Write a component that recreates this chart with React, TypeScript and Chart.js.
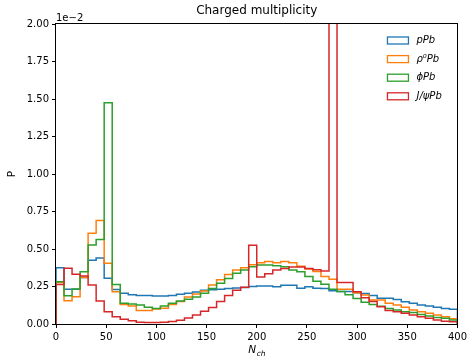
import React, { useEffect, useRef } from "react";
import { Chart, registerables } from "chart.js";

Chart.register(...registerables);

// Bin edges of the histogram (N_ch)
const binEdges = [
  0, 8, 16, 24, 32, 40, 48, 56, 64, 72, 80, 88, 96, 104, 112, 120, 128, 136, 144, 152,
  160, 168, 176, 184, 192, 200, 208, 216, 224, 232, 240, 248, 256, 264, 272, 280, 288,
  296, 304, 312, 320, 328, 336, 344, 352, 360, 368, 376, 384, 392, 400,
];

// Probabilities per bin, in units of 1e-2
const pPb = [
  0.375, 0.232, 0.232, 0.31, 0.425, 0.44, 0.305, 0.23, 0.205, 0.195,
  0.19, 0.19, 0.186, 0.186, 0.19, 0.198, 0.205, 0.213, 0.225, 0.228,
  0.232, 0.236, 0.24, 0.244, 0.25, 0.253, 0.253, 0.249, 0.258, 0.258,
  0.238, 0.249, 0.238, 0.236, 0.222, 0.216, 0.216, 0.209, 0.204, 0.19,
  0.171, 0.171, 0.164, 0.149, 0.138, 0.127, 0.12, 0.111, 0.104, 0.098,
];
const rho0Pb = [
  0.276, 0.155, 0.182, 0.31, 0.605, 0.69, 0.405, 0.215, 0.13, 0.12,
  0.09, 0.09, 0.1, 0.105, 0.13, 0.15, 0.18, 0.2, 0.22, 0.26,
  0.295, 0.33, 0.36, 0.375, 0.395, 0.409, 0.416, 0.409, 0.416, 0.409,
  0.385, 0.367, 0.35, 0.316, 0.298, 0.231, 0.231, 0.209, 0.193, 0.16,
  0.16, 0.138, 0.127, 0.111, 0.093, 0.082, 0.071, 0.06, 0.049, 0.035,
];
const phiPb = [
  0.282, 0.189, 0.233, 0.349, 0.527, 0.564, 1.475, 0.264, 0.138, 0.133,
  0.127, 0.111, 0.104, 0.12, 0.138, 0.153, 0.165, 0.18, 0.205, 0.236,
  0.271, 0.304, 0.338, 0.36, 0.382, 0.393, 0.393, 0.389, 0.382, 0.36,
  0.349, 0.316, 0.285, 0.265, 0.232, 0.216, 0.195, 0.17, 0.145, 0.13,
  0.118, 0.104, 0.093, 0.082, 0.076, 0.064, 0.053, 0.044, 0.038, 0.027,
];
const jpsiPb = [
  0.264, 0.371, 0.331, 0.32, 0.26, 0.153, 0.082, 0.049, 0.031, 0.022,
  0.012, 0.01, 0.01, 0.012, 0.016, 0.025, 0.04, 0.06, 0.085, 0.11,
  0.15, 0.19, 0.225, 0.245, 0.525, 0.313, 0.335, 0.36, 0.37, 0.38,
  0.38, 0.37, 0.362, 0.353, 2.6, 0.276, 0.276, 0.215, 0.175, 0.15,
  0.115, 0.09, 0.082, 0.071, 0.06, 0.049, 0.038, 0.027, 0.018, 0.015,
];

const seriesLabels = ["pPb", "ρ⁰Pb", "ϕPb", "J/ψPb"];
const seriesColors = ["#1f77b4", "#ff7f0e", "#2ca02c", "#d62728"];
const seriesValues = [pPb, rho0Pb, phiPb, jpsiPb];

const xTicks = [0, 50, 100, 150, 200, 250, 300, 350, 400];
const yTicks = [0, 0.25, 0.5, 0.75, 1.0, 1.25, 1.5, 1.75, 2.0];

const titleText = "Charged multiplicity";
const offsetText = "1e−2";
const yLabel = "P";
const xLabelMain = "N";
const xLabelSub = "ch";

const FONT = "'DejaVu Sans', 'Liberation Sans', sans-serif";

function stepPoints(values: number[]) {
  const pts: { x: number; y: number }[] = [{ x: binEdges[0], y: 0 }];
  values.forEach((v, i) => {
    pts.push({ x: binEdges[i], y: v });
    pts.push({ x: binEdges[i + 1], y: v });
  });
  pts.push({ x: binEdges[binEdges.length - 1], y: 0 });
  return pts;
}

const decorPlugin = {
  id: "decor",
  afterDatasetsDraw(chart: any) {
    const { ctx, chartArea } = chart;
    const { left, right, top, bottom } = chartArea;
    ctx.save();
    // frame (spines)
    ctx.strokeStyle = "#000";
    ctx.lineWidth = 1;
    ctx.strokeRect(Math.round(left) - 0.5, Math.round(top) - 0.5, Math.round(right - left) + 1, Math.round(bottom - top) + 1);

    // offset text
    ctx.fillStyle = "#000";
    ctx.font = `10px ${FONT}`;
    ctx.textAlign = "left";
    ctx.textBaseline = "alphabetic";
    ctx.fillText(offsetText, left, top - 3);

    // x label N_ch
    ctx.font = `italic 10.5px ${FONT}`;
    const wN = ctx.measureText(xLabelMain).width;
    ctx.font = `italic 7.5px ${FONT}`;
    const wS = ctx.measureText(xLabelSub).width;
    const cx = (left + right) / 2;
    const x0 = cx - (wN + wS) / 2;
    ctx.font = `italic 10.5px ${FONT}`;
    ctx.fillText(xLabelMain, x0, 353);
    ctx.font = `italic 7.5px ${FONT}`;
    ctx.fillText(xLabelSub, x0 + wN + 0.5, 356);

    // legend
    const boxW = 21;
    const boxH = 7;
    const bx = right - 70;
    let cy = top + 16.5;
    seriesLabels.forEach((lab, i) => {
      ctx.strokeStyle = seriesColors[i];
      ctx.lineWidth = 1.3;
      ctx.strokeRect(bx, cy - boxH / 2, boxW, boxH);
      ctx.fillStyle = "#000";
      ctx.font = `italic 10px ${FONT}`;
      ctx.textBaseline = "middle";
      ctx.fillText(lab, bx + boxW + 8, cy);
      cy += 18.6;
    });
    ctx.restore();
  },
};

export default function App() {
  const canvasRef = useRef<HTMLCanvasElement | null>(null);

  useEffect(() => {
    document.body.style.margin = "0";
    const canvas = canvasRef.current;
    if (!canvas) return;
    const datasets = seriesValues.map((vals, i) => ({
      label: seriesLabels[i],
      data: stepPoints(vals),
      borderColor: seriesColors[i],
      backgroundColor: seriesColors[i],
      borderWidth: 1.5,
      pointRadius: 0,
      fill: false,
      tension: 0,
      order: seriesValues.length - 1 - i,
    }));
    const chart = new Chart(canvas, {
      type: "line",
      data: { datasets },
      options: {
        responsive: false,
        animation: false,
        devicePixelRatio: 1,
        layout: { padding: { top: 0, right: 12, bottom: 0, left: 0 } },
        plugins: {
          legend: { display: false },
          tooltip: { enabled: false },
          title: {
            display: true,
            text: titleText,
            color: "#000",
            fullSize: false,
            font: { family: FONT, size: 12, weight: "normal" as any },
            padding: { top: 4, bottom: 5.6 },
          },
        },
        scales: {
          x: {
            type: "linear",
            min: 0,
            max: 400,
            afterBuildTicks: (s: any) => {
              s.ticks = xTicks.map((v) => ({ value: v }));
            },
            afterFit: (s: any) => {
              s.height = 34;
            },
            ticks: {
              color: "#000",
              font: { family: FONT, size: 10 },
              padding: 3,
              maxRotation: 0,
              autoSkip: false,
              callback: (v: any) => String(v),
            },
            grid: { drawOnChartArea: false, drawTicks: true, tickLength: 4, color: "#000", tickColor: "#000" },
            border: { display: false },
          },
          y: {
            type: "linear",
            min: 0,
            max: 2,
            afterBuildTicks: (s: any) => {
              s.ticks = yTicks.map((v) => ({ value: v }));
            },
            afterFit: (s: any) => {
              s.width = 56;
            },
            ticks: {
              color: "#000",
              font: { family: FONT, size: 10 },
              padding: 3,
              autoSkip: false,
              callback: (v: any) => Number(v).toFixed(2),
            },
            title: {
              display: true,
              text: yLabel,
              color: "#000",
              font: { family: FONT, size: 10.5 },
              padding: { top: 6, bottom: 0 },
            },
            grid: { drawOnChartArea: false, drawTicks: true, tickLength: 4, color: "#000", tickColor: "#000" },
            border: { display: false },
          },
        },
      },
      plugins: [decorPlugin],
    });
    return () => chart.destroy();
  }, []);

  return (
    <div style={{ width: 470, height: 358 }}>
      <canvas ref={canvasRef} width={470} height={358} />
    </div>
  );
}
